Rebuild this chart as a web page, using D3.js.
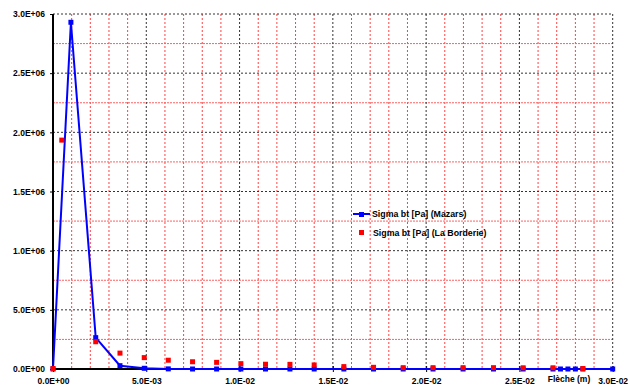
<!DOCTYPE html>
<html>
<head>
<meta charset="utf-8">
<script src="https://cdn.jsdelivr.net/npm/d3@7"></script>
<style>
  html, body { margin: 0; padding: 0; background: #fff; }
  svg text { font-family: "Liberation Sans", Arial, sans-serif; font-weight: bold; font-size: 8px; fill: #000; }
</style>
</head>
<body>
<svg id="chart" width="630" height="385"></svg>
<script>
// Deflection (m) vs. tensile stress (Pa), two damage models
const mazarsX = [0, 0.00096, 0.00229, 0.00359, 0.00489, 0.00618, 0.00748, 0.00877, 0.01007, 0.01139,
  0.0127, 0.014, 0.01559, 0.01718, 0.01877, 0.02037, 0.02198, 0.02361, 0.0252, 0.0268,
  0.0272, 0.0276, 0.028, 0.0284, 0.03];
const mazarsY = [0, 2.93e6, 2.65e5, 2.8e4, 6e3, 1e3, 0, 0, 0, 0,
  0, 0, 0, 0, 0, 0, 0, 0, 0, 0,
  0, 0, 0, 0, 0];

const borderieX = [0, 0.00047, 0.00229, 0.00359, 0.00489, 0.00618, 0.00748, 0.00877, 0.01007, 0.01139,
  0.0127, 0.014, 0.01559, 0.01718, 0.01877, 0.02037, 0.02198, 0.02361, 0.0252, 0.0268, 0.0284];
const borderieY = [0, 1.93e6, 2.26e5, 1.3e5, 9.2e4, 7e4, 5.7e4, 5.2e4, 4.1e4, 3.6e4,
  3.5e4, 3e4, 1.6e4, 1e4, 7e3, 7e3, 7e3, 7e3, 6e3, 6e3, 0];

const xTicks = [0, 0.005, 0.01, 0.015, 0.02, 0.025, 0.03];
const xTickLabels = ["0.0E+00", "5.0E-03", "1.0E-02", "1.5E-02", "2.0E-02", "2.5E-02", "3.0E-02"];
const yTicks = [0, 5e5, 1e6, 1.5e6, 2e6, 2.5e6, 3e6];
const yTickLabels = ["0.0E+00", "5.0E+05", "1.0E+06", "1.5E+06", "2.0E+06", "2.5E+06", "3.0E+06"];
const xMinor = d3.range(1, 30).map(i => i * 0.001).filter((v, i) => (i + 1) % 5 !== 0);
const yMinor = d3.range(0, 6).map(i => i * 5e5 + 2.5e5);

const seriesNames = ["Sigma bt [Pa] (Mazars)", "Sigma bt [Pa] (La Borderie)"];
const xTitle = "Flèche (m)";

const svg = d3.select("#chart");
const x = d3.scaleLinear().domain([0, 0.03]).range([53, 612.7]);
const y = d3.scaleLinear().domain([0, 3e6]).range([369, 14]);

// minor grid (red dotted)
const grid = svg.append("g");
grid.selectAll("line.vminor").data(xMinor).join("line")
  .attr("x1", d => x(d)).attr("x2", d => x(d)).attr("y1", y(3e6)).attr("y2", y(0))
  .attr("stroke", "#ff4040").attr("stroke-width", 1).attr("stroke-dasharray", "2,2");
grid.selectAll("line.hminor").data(yMinor).join("line")
  .attr("x1", x(0)).attr("x2", x(0.03)).attr("y1", d => y(d)).attr("y2", d => y(d))
  .attr("stroke", "#ff6060").attr("stroke-width", 1).attr("stroke-dasharray", "2,1");

// major grid (dark dotted)
grid.selectAll("line.vmajor").data(xTicks.slice(1)).join("line")
  .attr("x1", d => x(d)).attr("x2", d => x(d)).attr("y1", y(3e6)).attr("y2", y(0))
  .attr("stroke", "#333").attr("stroke-width", 1).attr("stroke-dasharray", "2,2");
grid.selectAll("line.hmajor").data(yTicks.slice(1)).join("line")
  .attr("x1", x(0)).attr("x2", x(0.03)).attr("y1", d => y(d)).attr("y2", d => y(d))
  .attr("stroke", "#333").attr("stroke-width", 1).attr("stroke-dasharray", "2,2");

// axes
const xAxis = d3.axisBottom(x).tickValues(xTicks).tickSize(0)
  .tickFormat((d, i) => xTickLabels[i]);
const xg = svg.append("g").attr("transform", `translate(0,${y(0)})`).call(xAxis);
xg.select(".domain").remove();
xg.selectAll("text").attr("dy", null).attr("y", 15).style("font-size", "8.5px")
  .style("font-family", '"Liberation Sans", Arial, sans-serif').style("font-weight", "bold");
xg.selectAll(".tick").append("line").attr("y1", -3).attr("y2", 3).attr("stroke", "#000");

const yAxis = d3.axisLeft(y).tickValues(yTicks).tickSize(3).tickPadding(5)
  .tickFormat((d, i) => yTickLabels[i]);
const yg = svg.append("g").attr("transform", `translate(${x(0)},0)`).call(yAxis);
yg.select(".domain").remove();
yg.selectAll("text").style("font-size", "8.5px")
  .style("font-family", '"Liberation Sans", Arial, sans-serif').style("font-weight", "bold");

svg.append("line").attr("x1", x(0)).attr("x2", x(0.03)).attr("y1", y(0)).attr("y2", y(0))
  .attr("stroke", "#000").attr("stroke-width", 2);
svg.append("line").attr("x1", x(0)).attr("x2", x(0)).attr("y1", y(3e6)).attr("y2", y(0))
  .attr("stroke", "#000").attr("stroke-width", 2);

// Mazars series: line + square markers
const mazars = mazarsX.map((v, i) => [v, mazarsY[i]]);
svg.append("path").datum(mazars)
  .attr("d", d3.line().x(d => x(d[0])).y(d => y(d[1])))
  .attr("fill", "none").attr("stroke", "#0000ff").attr("stroke-width", 2);
svg.append("g").selectAll("rect").data(mazars).join("rect")
  .attr("x", d => x(d[0]) - 2.5).attr("y", d => y(d[1]) - 2.5)
  .attr("width", 5).attr("height", 5).attr("fill", "#0000ff");

// La Borderie series: square markers only
const borderie = borderieX.map((v, i) => [v, borderieY[i]]);
svg.append("g").selectAll("rect").data(borderie).join("rect")
  .attr("x", d => x(d[0]) - 2.5).attr("y", d => y(d[1]) - 3)
  .attr("width", 5).attr("height", 5).attr("fill", "#ff0000");

// legend
const lg = svg.append("g").style("font-size", "8.8px");
lg.append("line").attr("x1", 353).attr("x2", 370).attr("y1", 214).attr("y2", 214)
  .attr("stroke", "#0000ff").attr("stroke-width", 2);
lg.append("rect").attr("x", 359).attr("y", 212).attr("width", 5).attr("height", 5).attr("fill", "#0000ff");
lg.append("text").attr("x", 372).attr("y", 217).style("font-size", "8.8px").text(seriesNames[0]);
lg.append("rect").attr("x", 359).attr("y", 230).attr("width", 5).attr("height", 5).attr("fill", "#ff0000");
lg.append("text").attr("x", 373).attr("y", 236).style("font-size", "8.8px").text(seriesNames[1]);

// x-axis title
svg.append("text").attr("x", 569).attr("y", 382).attr("text-anchor", "middle")
  .style("font-size", "8.5px").text(xTitle);
</script>
</body>
</html>
